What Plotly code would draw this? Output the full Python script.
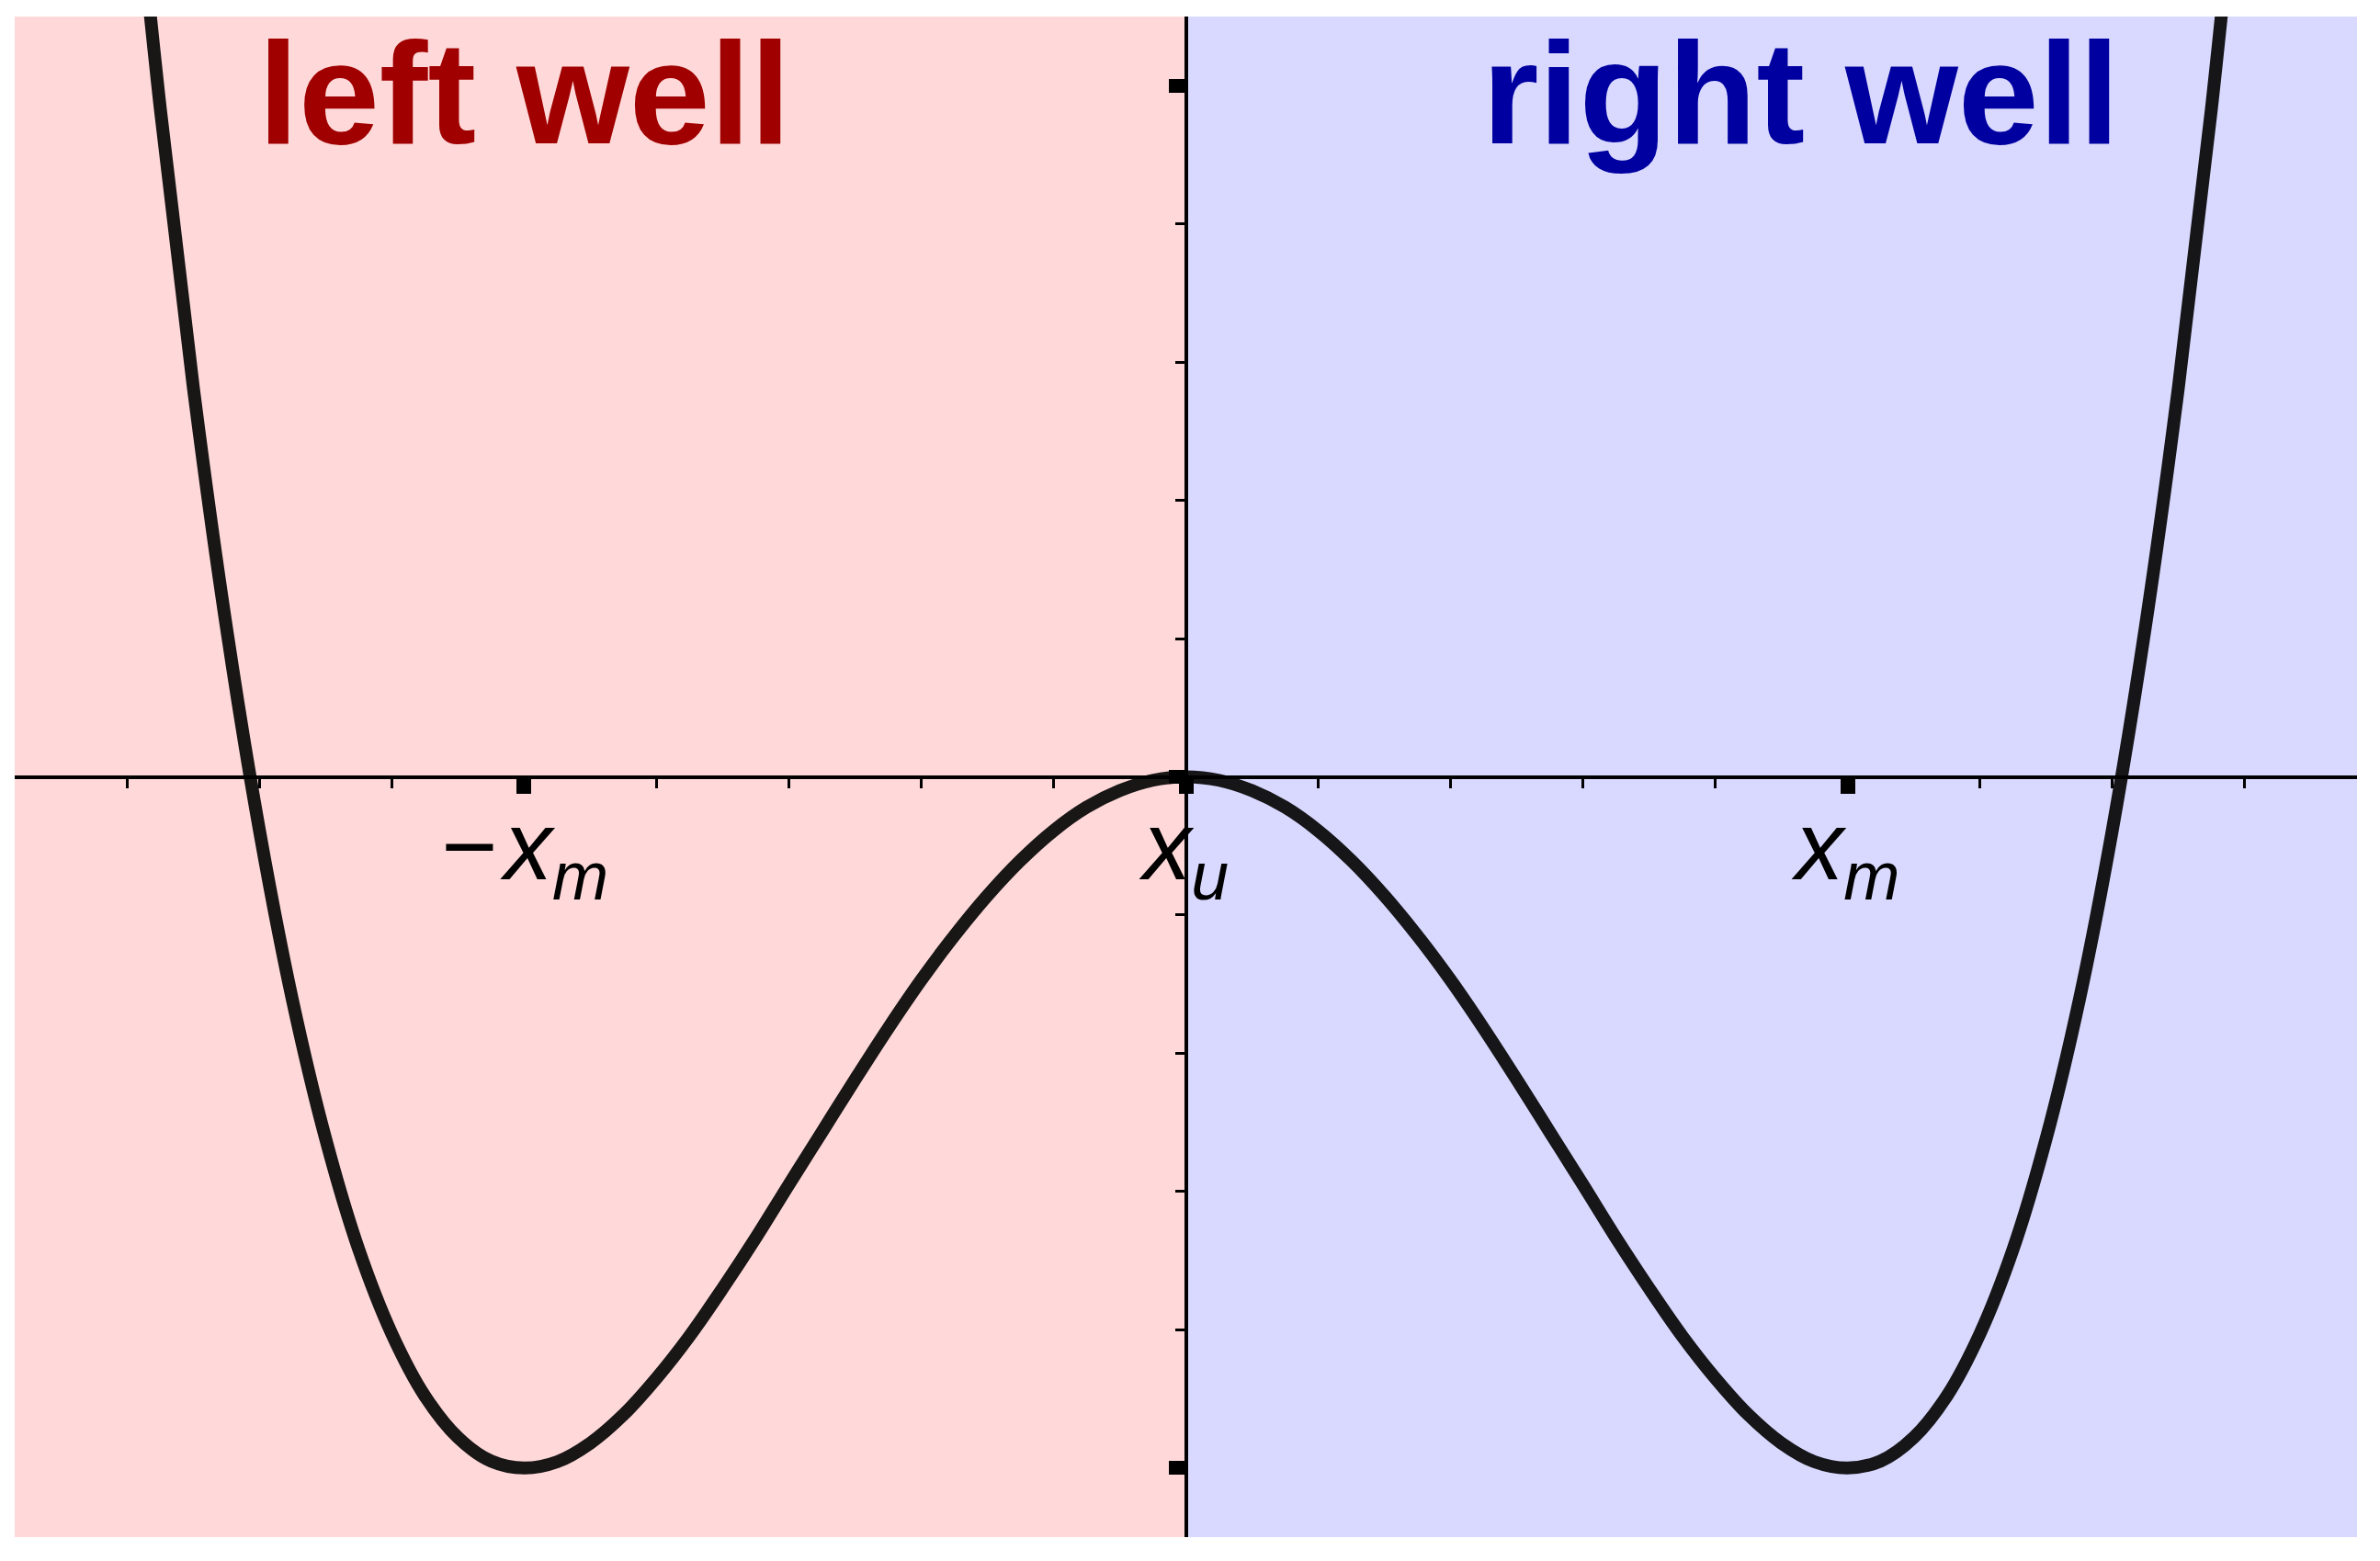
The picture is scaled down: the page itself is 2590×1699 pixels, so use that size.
import plotly.graph_objects as go

# ── DATA ─────────────────────────────────────────────────────────
# potential curve, x in units of x_m, V in units of the well depth
x_vals = [-1.60, -1.55, -1.50, -1.45, -1.40, -1.35, -1.30, -1.25, -1.20, -1.15,
          -1.10, -1.05, -1.00, -0.95, -0.90, -0.85, -0.80, -0.75, -0.70, -0.65,
          -0.60, -0.55, -0.50, -0.45, -0.40, -0.35, -0.30, -0.25, -0.20, -0.15,
          -0.10, -0.05, 0.00, 0.05, 0.10, 0.15, 0.20, 0.25, 0.30, 0.35,
          0.40, 0.45, 0.50, 0.55, 0.60, 0.65, 0.70, 0.75, 0.80, 0.85,
          0.90, 0.95, 1.00, 1.05, 1.10, 1.15, 1.20, 1.25, 1.30, 1.35,
          1.40, 1.45, 1.50, 1.55, 1.60]
v_vals = [1.434, 0.967, 0.563, 0.216, -0.078, -0.324, -0.524, -0.684, -0.806, -0.896,
          -0.956, -0.990, -1.000, -0.991, -0.964, -0.923, -0.870, -0.809, -0.740, -0.667,
          -0.590, -0.514, -0.438, -0.364, -0.294, -0.230, -0.172, -0.121, -0.078, -0.044,
          -0.020, -0.005, 0.000, -0.005, -0.020, -0.044, -0.078, -0.121, -0.172, -0.230,
          -0.294, -0.364, -0.438, -0.514, -0.590, -0.667, -0.740, -0.809, -0.870, -0.923,
          -0.964, -0.991, -1.000, -0.990, -0.956, -0.896, -0.806, -0.684, -0.524, -0.324,
          -0.078, 0.216, 0.563, 0.967, 1.434]

tick_pos = [-1, 0, 1]
tick_text = ['<i>−\u200ax<sub>m</sub></i>', '<i>x<sub>u</sub></i>', '<i>x<sub>m</sub></i>']
y_major = [-1, 0, 1]

well_labels = ['left well', 'right well']
well_x = [-1.0, 0.93]
well_colors = ['#a00000', '#0000a0']
well_fills = ['#ffd9d9', '#d9d9ff']

X_RANGE = [-1.77, 1.77]
Y_RANGE = [-1.1, 1.1]

# ── PLOT ─────────────────────────────────────────────────────────
fig = go.Figure()

# shaded halves
fig.add_shape(type='rect', xref='x', yref='paper', x0=X_RANGE[0], x1=0, y0=0, y1=1,
              fillcolor=well_fills[0], line_width=0, layer='below')
fig.add_shape(type='rect', xref='x', yref='paper', x0=0, x1=X_RANGE[1], y0=0, y1=1,
              fillcolor=well_fills[1], line_width=0, layer='below')

fig.add_trace(go.Scatter(
    x=x_vals, y=v_vals, mode='lines',
    line=dict(color='rgba(0,0,0,0.9)', width=14, shape='spline', smoothing=1.0),
    showlegend=False, hoverinfo='skip'))

for txt, xx, col in zip(well_labels, well_x, well_colors):
    fig.add_annotation(x=xx, y=0.99, text=txt, showarrow=False,
                       xanchor='center', yanchor='middle',
                       font=dict(family='Liberation Sans, Arial', size=158,
                                 color=col, weight='bold'))

fig.update_xaxes(
    range=X_RANGE, anchor='free', position=0.5,
    showline=True, linecolor='black', linewidth=4,
    showgrid=False, zeroline=False,
    tickmode='array', tickvals=tick_pos, ticktext=tick_text,
    ticks='outside', ticklen=16, tickwidth=16, tickcolor='black',
    minor=dict(tickmode='linear', tick0=0, dtick=0.2, ticks='outside',
               ticklen=10, tickwidth=3, tickcolor='black'),
    tickfont=dict(family='Liberation Sans, Arial', size=105, color='black'),
    ticklabelstandoff=-33)

fig.update_yaxes(
    range=Y_RANGE, anchor='free', position=0.5,
    showline=True, linecolor='black', linewidth=4,
    showgrid=False, zeroline=False,
    tickmode='array', tickvals=y_major, showticklabels=False,
    ticks='outside', ticklen=17, tickwidth=15, tickcolor='black',
    minor=dict(tickmode='linear', tick0=0, dtick=0.2, ticks='outside',
               ticklen=10, tickwidth=3, tickcolor='black'))

# page body adds an 8px margin, so the figure is a bit smaller than the window
fig.update_layout(
    width=2582, height=1691,
    margin=dict(l=8, r=25, t=10, b=26),
    paper_bgcolor='white', plot_bgcolor='white')

fig.write_html('out.html')
